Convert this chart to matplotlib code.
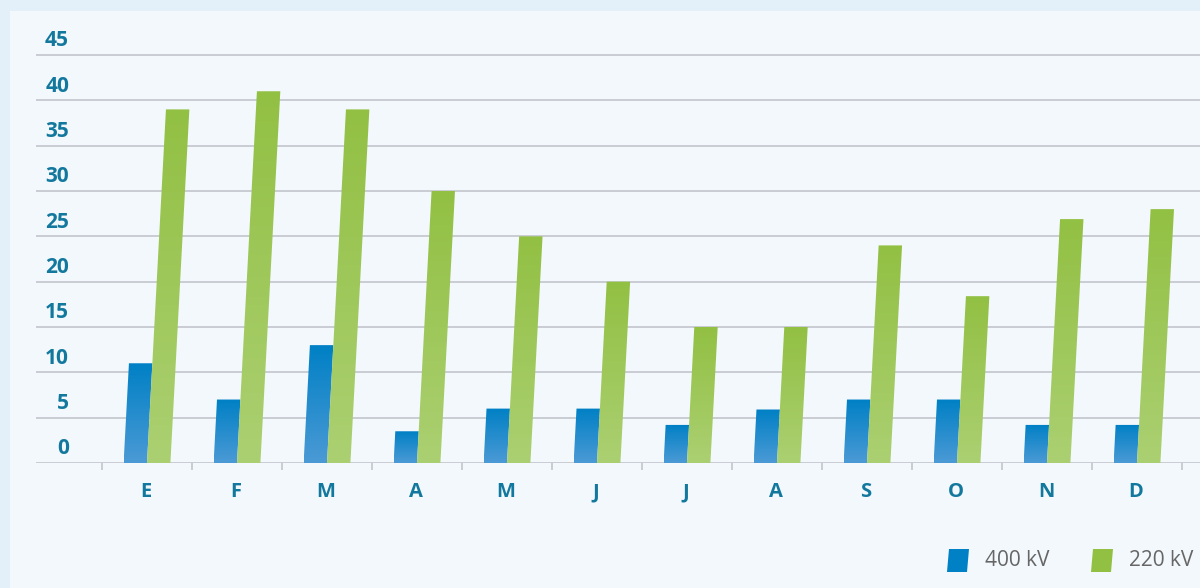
import numpy as np
import matplotlib
matplotlib.use('Agg')
import matplotlib.pyplot as plt
from matplotlib.patches import Polygon, Rectangle
from matplotlib.colors import LinearSegmentedColormap
from matplotlib import transforms

# data
months = ['E', 'F', 'M', 'A', 'M', 'J', 'J', 'A', 'S', 'O', 'N', 'D']
kv400 = [11, 7, 13, 3.5, 6, 6, 4.2, 5.9, 7, 7, 4.2, 4.2]
kv220 = [39, 41, 39, 30, 25, 20, 15, 15, 24, 18.4, 26.9, 28]
yticks = [0, 5, 10, 15, 20, 25, 30, 35, 40, 45]

blue_top, blue_bot = '#0080c5', '#4b9ad5'
green_top, green_bot = '#92c043', '#abd072'
label_col = '#13789e'
grid_col = '#c9cdd3'

fig = plt.figure(figsize=(12, 5.88), dpi=100)
fig.patch.set_facecolor('#e3f0fa')
fig.add_artist(Rectangle((10 / 1200, 0), 1, (588 - 11) / 588,
                         transform=fig.transFigure, facecolor='#f3f8fc',
                         edgecolor='none', zorder=0))

ax = fig.add_axes([36 / 1200, 125 / 588, 1 - 36 / 1200, 415 / 588])
ax.set_facecolor('none')
xmin, xmax = (36 - 147) / 90, (1200 - 147) / 90
ymax = 45 * 415 / 408

slant = 0.0054  # x shift per y unit (bars lean right)
w = 0.26


def skew_bar(x0, h, ctop, cbot):
    verts = [(x0, 0), (x0 + w, 0), (x0 + w + slant * h, h), (x0 + slant * h, h)]
    poly = Polygon(verts, closed=True, facecolor='none', edgecolor='none')
    ax.add_patch(poly)
    cmap = LinearSegmentedColormap.from_list('g', [cbot, ctop])
    grad = np.linspace(0, 1, 256).reshape(-1, 1)
    im = ax.imshow(grad, cmap=cmap, origin='lower', aspect='auto',
                   extent=[x0, x0 + w + slant * h, 0, h], zorder=3)
    im.set_clip_path(poly)


for i in range(len(months)):
    skew_bar(i - w, kv400[i], blue_top, blue_bot)
    skew_bar(i, kv220[i], green_top, green_bot)

for t in yticks:
    ax.axhline(t, color=grid_col, lw=1.4, zorder=1)

ax.set_xlim(xmin, xmax)
ax.set_ylim(0, ymax)
for s in ax.spines.values():
    s.set_visible(False)
ax.set_yticks([])
ax.set_xticks(np.arange(len(months) + 1) - 0.5)
ax.set_xticklabels([])
ax.tick_params(axis='x', length=5, width=1.4, color=grid_col, direction='out')

# y labels sit above their gridline
ylab_tr = transforms.offset_copy(ax.transData, fig=fig, x=0, y=14, units='dots')
for t in yticks:
    ax.text((69 - 147) / 90, t, str(t), transform=ylab_tr, ha='right', va='center',
            fontsize=15, fontweight='bold', color=label_col, family='Open Sans')

xlab_tr = transforms.offset_copy(ax.transData, fig=fig, x=-1, y=-29, units='dots')
for i, m in enumerate(months):
    ax.text(i, 0, m, transform=xlab_tr, ha='center', va='center',
            fontsize=14.5, fontweight='bold', color=label_col, family='Open Sans')

# legend
def legend_item(px, txt, col):
    y0, y1 = 1 - 572 / 588, 1 - 549 / 588
    dx = 2 / 1200
    verts = [(px / 1200, y0), ((px + 20) / 1200, y0),
             ((px + 20) / 1200 + dx, y1), (px / 1200 + dx, y1)]
    fig.add_artist(Polygon(verts, closed=True, transform=fig.transFigure,
                           facecolor=col, edgecolor='none'))
    fig.text((px + 38) / 1200, 1 - 561 / 588, txt, ha='left', va='center',
             fontsize=15, color='#666666', family='Open Sans')


legend_item(947, '400 kV', blue_top)
legend_item(1091, '220 kV', green_top)

fig.savefig('out.png', dpi=100, facecolor=fig.get_facecolor())
